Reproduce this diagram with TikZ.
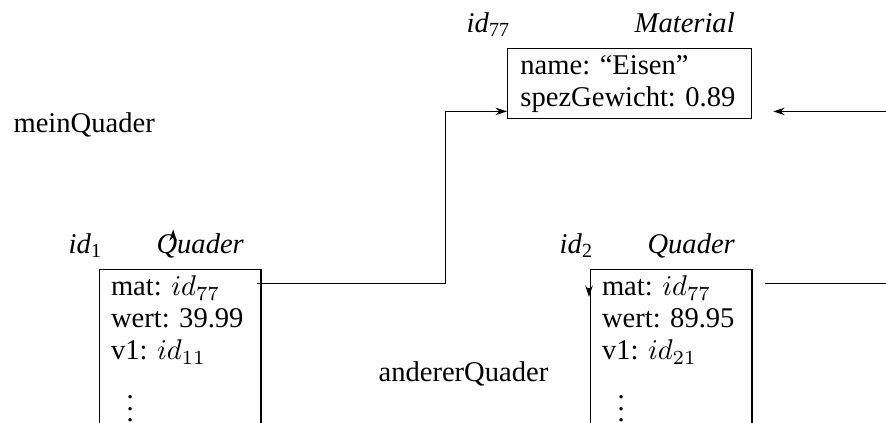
\documentclass[tikz,border=0pt]{standalone}
\usepackage{amsmath}
\usepackage{fontspec}
\setmainfont{Liberation Serif}
\usepackage{tikz}
\usetikzlibrary{arrows.meta, positioning, calc}
\tikzset{
    objbox/.style={rectangle, draw, align=left, inner xsep=4pt, inner ysep=2.3pt, font=\fontsize{10}{11.2}\selectfont\frenchspacing},
    classname/.style={inner sep=0pt, text depth=0pt, font=\itshape},
    objid/.style={inner sep=0pt, text depth=0pt},
    varname/.style={inner sep=0pt, anchor=base west},
    ref/.style={-{Stealth[length=4pt, width=2.6pt]}}
}

\begin{document}
\begin{tikzpicture}[x=0.35pt, y=0.35pt]
    \clip (0,0) rectangle (886,423);

    % the objects
    \node[objbox, inner xsep=4.5pt, text width=76.5pt, anchor=north west] (mat) at (507,375) {name: “Eisen”\\ spezGewicht: 0.89};
    \node[objbox, text width=48.5pt, anchor=north west] (q1) at (99,154) {mat: $id_{77}$\\ wert: 39.99\\ v1: $id_{11}$\\[4pt] \hspace*{5.5pt}\vdots\rule[-6pt]{0pt}{6pt}};
    \node[objbox, text width=48.5pt, anchor=north west] (q2) at (590,154) {mat: $id_{77}$\\ wert: 89.95\\ v1: $id_{21}$\\[4pt] \hspace*{5.5pt}\vdots\rule[-6pt]{0pt}{6pt}};

    % ids and classes
    \node[objid, above left=5.3pt and -1.4pt of mat.north west] (matid) {\textit{id}\textsubscript{77}};
    \node[classname, above left=5.3pt and 6pt of mat.north east] (mattype) {Material};
    \node[objid, above left=5.3pt and -1.4pt of q1.north west] (q1id) {\textit{id}\textsubscript{1}};
    \node[classname, above left=5.3pt and 6pt of q1.north east] (q1type) {Quader};
    \node[objid, above left=5.3pt and -1.4pt of q2.north west] (q2id) {\textit{id}\textsubscript{2}};
    \node[classname, above left=5.3pt and 6pt of q2.north east] (q2type) {Quader};

    % variables
    \node[varname] (mein) at (13,290) {meinQuader};
    \node[varname] (anderer) at (378,41) {andererQuader};

    % references
    \coordinate (q1mat) at ([xshift=-1.5pt, yshift=-5.2pt]q1.north east);
    \coordinate (q2mat) at ([xshift=4.5pt, yshift=-5.2pt]q2.north east);
    \coordinate (matin) at ([yshift=2.8pt]mat.south west);
    \coordinate (matback) at ([xshift=7.3pt, yshift=2.8pt]mat.south east);
    \coordinate (q1in) at ([xshift=6pt, yshift=1.2pt]q1type.north west);
    \coordinate (q2in) at ([xshift=-0.35pt, yshift=-9.8pt]q2.north west);

    \draw[ref] (q1mat) -- ++(188.5,0) |- (matin);
    \draw[ref] (q2mat) -- ++(150,0) |- (matback);
    \draw[ref] ([yshift=-3pt]q1in) -- (q1in);
    \draw[ref] ([yshift=3pt]q2in) -- (q2in);
\end{tikzpicture}
\end{document}
